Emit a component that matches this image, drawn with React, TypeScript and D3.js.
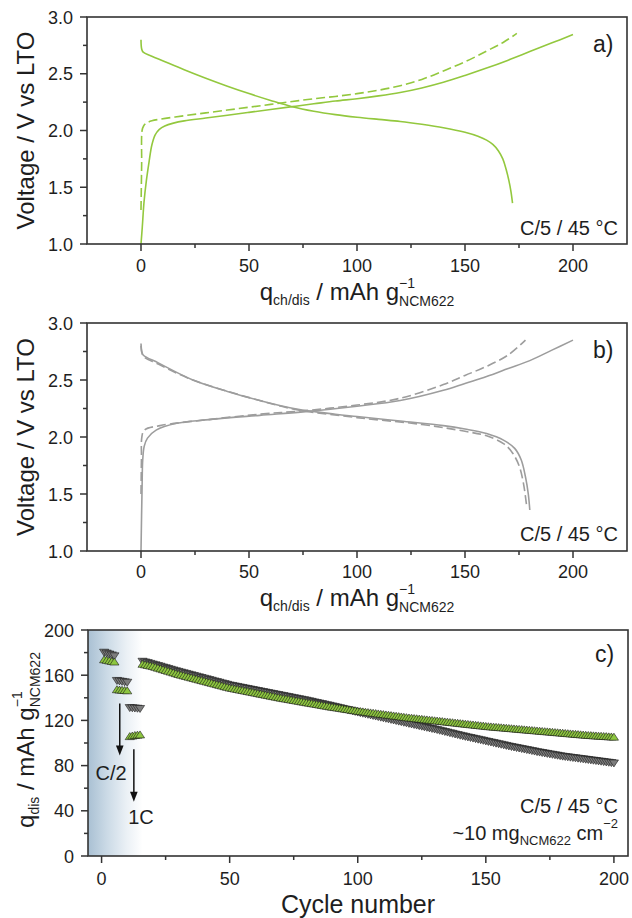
import React from 'react';
import * as d3 from 'd3';

const FONT = "'Liberation Sans', Arial, Helvetica, sans-serif";
const TXT = '#1e1e1e';
const AX = '#333333';
const GREEN = '#93c83e';
const GRAY = '#9d9d9d';
const MK_GREEN = '#8dc63f';
const MK_GRAY = '#7d7d7d';

// ---- Panel a (green) : [q, V]
const aChargeSolid: [number, number][] = [
  [0, 1.0], [0.6, 1.15], [1.4, 1.37], [2.5, 1.56], [3.7, 1.72], [5, 1.87], [6.5, 1.96], [8.5, 2.01],
  [11, 2.04], [15, 2.065], [20, 2.085], [30, 2.11], [40, 2.135], [50, 2.16], [60, 2.185], [70, 2.21],
  [80, 2.235], [90, 2.26], [100, 2.28], [110, 2.305], [120, 2.335], [130, 2.375], [140, 2.425],
  [150, 2.485], [160, 2.55], [170, 2.62], [180, 2.695], [190, 2.77], [200, 2.845],
];
const aChargeDashed: [number, number][] = [
  [0, 1.3], [0.3, 1.7], [0.5, 2.0], [1.2, 2.04], [2.5, 2.065], [5, 2.085], [9, 2.1], [20, 2.13],
  [30, 2.155], [40, 2.18], [50, 2.205], [60, 2.23], [70, 2.255], [80, 2.28], [90, 2.3], [100, 2.325],
  [110, 2.355], [120, 2.395], [130, 2.45], [140, 2.525], [150, 2.605], [160, 2.7], [168, 2.78], [174, 2.855],
];
const aDischarge: [number, number][] = [
  [0, 2.8], [0.3, 2.72], [1, 2.69], [5, 2.655], [10, 2.615], [20, 2.535], [30, 2.46], [40, 2.39],
  [50, 2.325], [60, 2.265], [70, 2.21], [80, 2.17], [90, 2.14], [100, 2.117], [110, 2.098], [120, 2.08],
  [130, 2.055], [140, 2.025], [150, 1.985], [156, 1.95], [160, 1.915], [163, 1.875], [165.5, 1.82],
  [167.5, 1.75], [169, 1.66], [170.3, 1.56], [171.3, 1.46], [172, 1.36],
];

// ---- Panel b (gray) : [q, V]
const bChargeSolid: [number, number][] = [
  [0, 1.0], [0.5, 1.56], [0.8, 1.8], [1.5, 1.92], [3, 1.99], [7, 2.06], [16.5, 2.12], [30, 2.15],
  [55, 2.19], [75, 2.22], [100, 2.27], [120, 2.32], [140, 2.41], [150, 2.47], [160, 2.53],
  [170, 2.6], [180, 2.67], [190, 2.76], [200, 2.85],
];
const bChargeDashed: [number, number][] = [
  [0, 1.5], [0.2, 1.8], [0.4, 2.0], [1.5, 2.06], [8.8, 2.1], [30, 2.15], [55, 2.2], [75, 2.23],
  [100, 2.28], [120, 2.34], [140, 2.46], [150, 2.54], [160, 2.62], [170, 2.72], [178, 2.85],
];
const bDischargeSolid: [number, number][] = [
  [0, 2.82], [0.3, 2.76], [1, 2.72], [8, 2.65], [24, 2.5], [40, 2.4], [55, 2.32], [72, 2.245],
  [90, 2.2], [100, 2.18], [120, 2.14], [140, 2.1], [150, 2.07], [160, 2.03], [168, 1.97],
  [173, 1.9], [176, 1.8], [178, 1.65], [179.3, 1.5], [180, 1.36],
];
const bDischargeDashed: [number, number][] = [
  [0, 2.8], [1, 2.71], [8, 2.64], [24, 2.5], [55, 2.32], [72, 2.24], [100, 2.17], [130, 2.11],
  [150, 2.05], [160, 2.01], [168, 1.94], [172, 1.86], [175, 1.75], [177, 1.6], [178.5, 1.4],
];

// ---- Panel c : discharge capacity per cycle
const earlyCycles = [1, 2, 3, 4, 5, 6, 7, 8, 9, 10, 11, 12, 13, 14, 15];
const earlyGray = [180.0, 179.2, 178.4, 177.6, 176.8, 155.0, 154.6, 154.2, 153.8, 153.4, 131.0, 130.8, 130.6, 130.4, 130.2];
const earlyGreen = [174.0, 173.5, 173.0, 172.5, 172.0, 147.5, 147.2, 147.0, 146.8, 146.5, 106.0, 106.5, 107.0, 107.3, 107.5];
const longStartCycle = 16;
const longGray = [
  172.0, 171.4, 170.8, 170.1, 169.5,
  168.9, 168.2, 167.6, 166.9, 166.3, 165.6, 164.9, 164.3, 163.6, 163.0,
  162.4, 161.8, 161.2, 160.6, 160.0, 159.4, 158.8, 158.2, 157.6, 157.0,
  156.4, 155.8, 155.2, 154.6, 154.0, 153.4, 152.8, 152.2, 151.6, 151.0,
  150.6, 150.1, 149.7, 149.2, 148.8, 148.3, 147.9, 147.4, 147.0, 146.5,
  146.1, 145.6, 145.2, 144.7, 144.3, 143.8, 143.4, 142.9, 142.5, 142.0,
  141.6, 141.1, 140.7, 140.2, 139.8, 139.3, 138.9, 138.4, 138.0, 137.5,
  137.0, 136.5, 136.0, 135.5, 135.0, 134.5, 134.0, 133.5, 133.0, 132.5,
  132.0, 131.4, 130.9, 130.3, 129.8, 129.2, 128.7, 128.1, 127.6, 127.0,
  126.5, 126.0, 125.5, 125.0, 124.5, 124.0, 123.5, 123.0, 122.5, 122.0,
  121.5, 121.0, 120.5, 120.0, 119.5, 119.0, 118.5, 118.0, 117.5, 117.0,
  116.5, 116.0, 115.5, 115.0, 114.5, 114.0, 113.5, 113.0, 112.5, 112.0,
  111.5, 110.9, 110.4, 109.8, 109.3, 108.7, 108.2, 107.6, 107.1, 106.5,
  106.0, 105.5, 105.0, 104.5, 104.0, 103.5, 103.0, 102.5, 102.0, 101.5,
  101.0, 100.5, 100.0, 99.5, 99.0, 98.5, 98.0, 97.5, 97.0, 96.5,
  96.1, 95.6, 95.2, 94.7, 94.3, 93.8, 93.4, 92.9, 92.5, 92.0,
  91.6, 91.2, 90.8, 90.4, 90.0, 89.6, 89.2, 88.8, 88.4, 88.0,
  87.7, 87.4, 87.1, 86.8, 86.5, 86.2, 85.9, 85.6, 85.3, 85.0,
  84.7, 84.4, 84.1, 83.8, 83.5, 83.2, 82.9, 82.6, 82.3, 82.0,
];
const longGreen = [
  170.0, 169.5, 169.0, 168.5, 168.0,
  167.3, 166.6, 165.9, 165.2, 164.5, 163.8, 163.1, 162.4, 161.7, 161.0,
  160.4, 159.8, 159.2, 158.6, 158.0, 157.4, 156.8, 156.2, 155.6, 155.0,
  154.4, 153.8, 153.2, 152.6, 152.0, 151.4, 150.8, 150.2, 149.6, 149.0,
  148.6, 148.1, 147.7, 147.2, 146.8, 146.3, 145.9, 145.4, 145.0, 144.5,
  144.1, 143.6, 143.2, 142.7, 142.3, 141.8, 141.4, 140.9, 140.5, 140.0,
  139.6, 139.2, 138.8, 138.4, 138.0, 137.6, 137.2, 136.8, 136.4, 136.0,
  135.6, 135.2, 134.8, 134.4, 134.0, 133.6, 133.2, 132.8, 132.4, 132.0,
  131.7, 131.3, 131.0, 130.6, 130.3, 129.9, 129.6, 129.2, 128.9, 128.5,
  128.2, 127.9, 127.6, 127.3, 127.0, 126.7, 126.4, 126.1, 125.8, 125.5,
  125.2, 124.9, 124.6, 124.3, 124.0, 123.7, 123.4, 123.1, 122.8, 122.5,
  122.3, 122.0, 121.8, 121.5, 121.3, 121.0, 120.8, 120.5, 120.3, 120.0,
  119.8, 119.5, 119.3, 119.0, 118.8, 118.5, 118.3, 118.0, 117.8, 117.5,
  117.3, 117.0, 116.8, 116.5, 116.3, 116.0, 115.8, 115.5, 115.3, 115.0,
  114.8, 114.6, 114.4, 114.2, 114.0, 113.8, 113.6, 113.4, 113.2, 113.0,
  112.8, 112.6, 112.4, 112.2, 112.0, 111.8, 111.6, 111.4, 111.2, 111.0,
  110.8, 110.6, 110.4, 110.2, 110.0, 109.8, 109.6, 109.4, 109.2, 109.0,
  108.8, 108.6, 108.4, 108.2, 108.0, 107.8, 107.6, 107.4, 107.2, 107.0,
  106.9, 106.7, 106.6, 106.4, 106.3, 106.1, 106.0, 105.8, 105.7, 105.5,
];

// ticks
const qMajor = [0, 50, 100, 150, 200];
const qMinor = [25, 75, 125, 175];
const vMajor = [1.0, 1.5, 2.0, 2.5, 3.0];
const vMinor = [1.25, 1.75, 2.25, 2.75];
const cycMajor = [0, 50, 100, 150, 200];
const cycMinor = [25, 75, 125, 175];
const capMajor = [0, 40, 80, 120, 160, 200];
const capMinor = [20, 60, 100, 140, 180];

// arrows in panel c (cycle, from capacity, to capacity)
const arrowC2 = { cycle: 7.1, from: 135, to: 89 };
const arrow1C = { cycle: 12.6, from: 94.5, to: 48 };

const W = 632;
const H = 918;
const L = 87;
const R = 627;

type Sc = d3.ScaleLinear<number, number>;

function Axes({ x, y, xMaj, xMin, yMaj, yMin, yFmt, xLabY }: {
  x: Sc; y: Sc; xMaj: number[]; xMin: number[]; yMaj: number[]; yMin: number[];
  yFmt: (v: number) => string; xLabY: number;
}) {
  const [x0, x1] = x.range();
  const [y0, y1] = y.range();
  return (
    <g>
      <rect x={x0} y={y1} width={x1 - x0} height={y0 - y1} fill="none" stroke={AX} strokeWidth={1.6} />
      {xMaj.map((v) => (
        <g key={'xm' + v}>
          <line x1={x(v)} x2={x(v)} y1={y0} y2={y0 + 7} stroke={AX} strokeWidth={1.5} />
          <text x={x(v)} y={xLabY} textAnchor="middle" fontSize={18} fill={TXT}>{v}</text>
        </g>
      ))}
      {xMin.map((v) => (
        <line key={'xn' + v} x1={x(v)} x2={x(v)} y1={y0} y2={y0 + 4} stroke={AX} strokeWidth={1.5} />
      ))}
      {yMaj.map((v) => (
        <g key={'ym' + v}>
          <line x1={x0 - 7} x2={x0} y1={y(v)} y2={y(v)} stroke={AX} strokeWidth={1.5} />
          <text x={x0 - 14} y={y(v) + 6.5} textAnchor="end" fontSize={18} fill={TXT}>{yFmt(v)}</text>
        </g>
      ))}
      {yMin.map((v) => (
        <line key={'yn' + v} x1={x0 - 4} x2={x0} y1={y(v)} y2={y(v)} stroke={AX} strokeWidth={1.5} />
      ))}
    </g>
  );
}

function QLabel({ y }: { y: number }) {
  return (
    <text x={(L + R) / 2} y={y} textAnchor="middle" fontSize={24} fill={TXT}>
      q<tspan fontSize={14} dy={5}>ch/dis</tspan>
      <tspan dy={-5}> / mAh g</tspan>
      <tspan fontSize={14} dy={-12}>−1</tspan>
      <tspan fontSize={14} dx={-16} dy={18}>NCM622</tspan>
    </text>
  );
}

const upTri = 'M-4.6,3.4L4.6,3.4L0,-3.6Z';
const downTri = 'M-4.6,-3.4L4.6,-3.4L0,3.6Z';

export default function App() {
  const xq = d3.scaleLinear().domain([-25, 225]).range([L, R]);
  const ya = d3.scaleLinear().domain([1, 3]).range([244, 17]);
  const yb = d3.scaleLinear().domain([1, 3]).range([551, 323]);
  const xc = d3.scaleLinear().domain([-5.3, 205.5]).range([88, 628]);
  const yc = d3.scaleLinear().domain([0, 200]).range([856, 630]);

  const lineA = d3.line<[number, number]>().x((d) => xq(d[0])).y((d) => ya(d[1])).curve(d3.curveCatmullRom.alpha(0.5));
  const lineB = d3.line<[number, number]>().x((d) => xq(d[0])).y((d) => yb(d[1])).curve(d3.curveCatmullRom.alpha(0.5));

  const grayPts = [
    ...earlyCycles.map((c, i) => [c, earlyGray[i]]),
    ...longGray.map((v, i) => [longStartCycle + i, v]),
  ];
  const greenPts = [
    ...earlyCycles.map((c, i) => [c, earlyGreen[i]]),
    ...longGreen.map((v, i) => [longStartCycle + i, v]),
  ];

  const f1 = (v: number) => v.toFixed(1);
  const f0 = (v: number) => String(v);

  const arrow = (a: { cycle: number; from: number; to: number }, key: string) => {
    const ax = xc(a.cycle);
    const yt = yc(a.to);
    return (
      <g key={key}>
        <line x1={ax} x2={ax} y1={yc(a.from)} y2={yt - 8} stroke="#111" strokeWidth={1.5} />
        <path d={`M${ax - 3.8},${yt - 10}L${ax + 3.8},${yt - 10}L${ax},${yt}Z`} fill="#111" />
      </g>
    );
  };

  return (
    <div style={{ position: 'absolute', left: 0, top: 0 }}>
      <svg width={W} height={H} viewBox={`0 0 ${W} ${H}`} style={{ display: 'block', fontFamily: FONT }}>
        <rect width={W} height={H} fill="#ffffff" />
        <defs>
          <linearGradient id="shade" x1="0" x2="1" y1="0" y2="0">
            <stop offset="0%" stopColor="#a9c0d3" />
            <stop offset="35%" stopColor="#cbdae6" />
            <stop offset="70%" stopColor="#eaf0f5" />
            <stop offset="100%" stopColor="#ffffff" />
          </linearGradient>
        </defs>

        {/* ---------- Panel a ---------- */}
        <path d={lineA(aChargeDashed) || ''} fill="none" stroke={GREEN} strokeWidth={1.6} strokeDasharray="9,4" />
        <path d={lineA(aChargeSolid) || ''} fill="none" stroke={GREEN} strokeWidth={1.6} />
        <path d={lineA(aDischarge) || ''} fill="none" stroke={GREEN} strokeWidth={1.6} />
        <Axes x={xq} y={ya} xMaj={qMajor} xMin={qMinor} yMaj={vMajor} yMin={vMinor} yFmt={f1} xLabY={272} />
        <text x={593} y={52} fontSize={23} fill={TXT}>a)</text>
        <text x={618} y={235} textAnchor="end" fontSize={20} fill={TXT}>C/5 / 45 °C</text>
        <text transform={`translate(34,${(17 + 244) / 2}) rotate(-90)`} textAnchor="middle" fontSize={24} fill={TXT}>
          Voltage / V vs LTO
        </text>
        <QLabel y={300} />

        {/* ---------- Panel b ---------- */}
        <path d={lineB(bChargeDashed) || ''} fill="none" stroke={GRAY} strokeWidth={1.6} strokeDasharray="9,4" />
        <path d={lineB(bDischargeDashed) || ''} fill="none" stroke={GRAY} strokeWidth={1.6} strokeDasharray="9,4" />
        <path d={lineB(bChargeSolid) || ''} fill="none" stroke={GRAY} strokeWidth={1.6} />
        <path d={lineB(bDischargeSolid) || ''} fill="none" stroke={GRAY} strokeWidth={1.6} />
        <Axes x={xq} y={yb} xMaj={qMajor} xMin={qMinor} yMaj={vMajor} yMin={vMinor} yFmt={f1} xLabY={578} />
        <text x={593} y={358} fontSize={23} fill={TXT}>b)</text>
        <text x={618} y={541} textAnchor="end" fontSize={20} fill={TXT}>C/5 / 45 °C</text>
        <text transform={`translate(34,${(323 + 551) / 2}) rotate(-90)`} textAnchor="middle" fontSize={24} fill={TXT}>
          Voltage / V vs LTO
        </text>
        <QLabel y={606} />

        {/* ---------- Panel c ---------- */}
        <rect x={xc(-5.3)} y={yc(200)} width={xc(16) - xc(-5.3)} height={yc(0) - yc(200)} fill="url(#shade)" />
        {grayPts.map((p, i) => (
          <path key={'g' + i} d={downTri} transform={`translate(${xc(p[0])},${yc(p[1])})`} fill={MK_GRAY} stroke="#1a1a1a" strokeWidth={0.6} />
        ))}
        {greenPts.map((p, i) => (
          <path key={'n' + i} d={upTri} transform={`translate(${xc(p[0])},${yc(p[1])})`} fill={MK_GREEN} stroke="#1a1a1a" strokeWidth={0.6} />
        ))}
        {arrow(arrowC2, 'a1')}
        {arrow(arrow1C, 'a2')}
        <text x={111} y={780} textAnchor="middle" fontSize={20} fill={TXT}>C/2</text>
        <text x={141} y={824} textAnchor="middle" fontSize={20} fill={TXT}>1C</text>
        <Axes x={xc} y={yc} xMaj={cycMajor} xMin={cycMinor} yMaj={capMajor} yMin={capMinor} yFmt={f0} xLabY={885} />
        <text x={595} y={662} fontSize={23} fill={TXT}>c)</text>
        <text x={618} y={813} textAnchor="end" fontSize={20} fill={TXT}>C/5 / 45 °C</text>
        <text x={618} y={840} textAnchor="end" fontSize={20} fill={TXT}>
          ~10 mg<tspan fontSize={13} dy={5}>NCM622</tspan>
          <tspan dy={-5}> cm</tspan>
          <tspan fontSize={13} dy={-12}>−2</tspan>
        </text>
        <text transform={`translate(34,740) rotate(-90)`} textAnchor="middle" fontSize={24} fill={TXT}>
          q<tspan fontSize={14} dy={5}>dis</tspan>
          <tspan dy={-5}> / mAh g</tspan>
          <tspan fontSize={14} dy={-12}>−1</tspan>
          <tspan fontSize={14} dx={-16} dy={18}>NCM622</tspan>
        </text>
        <text x={(88 + 628) / 2} y={913} textAnchor="middle" fontSize={25} fill={TXT}>Cycle number</text>
      </svg>
    </div>
  );
}
